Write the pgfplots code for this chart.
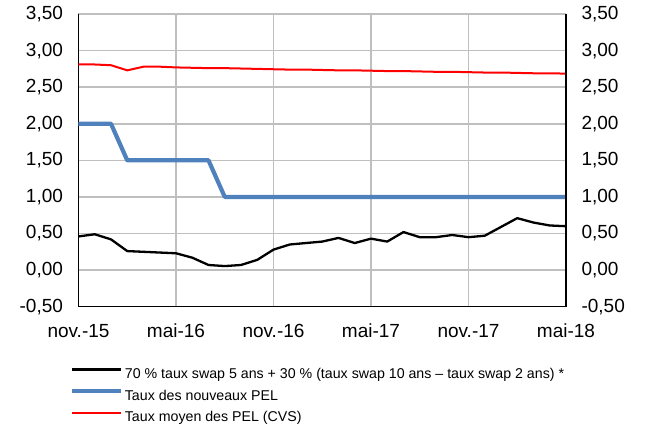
\documentclass[border=0pt]{standalone}
\usepackage{pgfplots}
\pgfplotsset{compat=1.18}
\usepackage{fontspec}
\setmainfont{Liberation Sans}
\definecolor{pelblue}{RGB}{79,129,189}
\definecolor{gridgray}{RGB}{191,191,191}
\begin{document}
\begin{tikzpicture}
\useasboundingbox (-78.5pt,-123.3pt) rectangle (566.5pt,306.7pt);
\pgfplotsset{
  common/.style={
    scale only axis, width=487.5pt, height=292.7pt,
    at={(0pt,0pt)}, anchor=south west,
    xmin=0, xmax=30, ymin=-0.5, ymax=3.5,
    ytick={-0.5,0,...,3.5},
    major tick length=0pt,
    tick label style={font=\fontsize{19}{22}\selectfont},
    /pgf/number format/.cd, assume math mode=true, fixed, fixed zerofill, precision=2, use comma,
  }
}
\begin{axis}[common,
  axis x line*=bottom, axis y line*=left,
  axis line style={-, black, line width=1.5pt},
  xtick={0,6,...,30},
  xticklabels={nov.-15,mai-16,nov.-16,mai-17,nov.-17,mai-18},
  xticklabel style={yshift=-14pt},
  yticklabel style={xshift=-12pt},
  grid=major,
  major grid style={gridgray, line width=1.5pt},
  legend cell align=left,
  legend image code/.code={\draw[#1] (0pt,4.5pt) -- (49pt,4.5pt);},
  legend style={draw=none, fill=none, inner sep=0pt,
    at={(axis description cs:-0.0175,-0.204)}, anchor=north west,
    font=\fontsize{14.2}{17}\selectfont,
    row sep=7pt,
    nodes={inner sep=1.5pt}},
]
\addplot[black, line width=2.3pt, line join=round] coordinates {
(0,0.46)(1,0.49)(2,0.42)(3,0.26)(4,0.25)(5,0.24)(6,0.23)(7,0.17)(8,0.07)(9,0.055)
(10,0.07)(11,0.14)(12,0.28)(13,0.35)(14,0.37)(15,0.39)(16,0.44)(17,0.37)(18,0.43)(19,0.39)
(20,0.52)(21,0.45)(22,0.45)(23,0.48)(24,0.45)(25,0.47)(26,0.59)(27,0.71)(28,0.65)(29,0.61)(30,0.60)};
\addlegendentry{70 \% taux swap 5 ans + 30 \% (taux swap 10 ans – taux swap 2 ans) *}
\addplot[pelblue, line width=4.2pt, line join=round] coordinates {
(0,2)(2,2)(3,1.5)(8,1.5)(9,1)(30,1)};
\addlegendentry{Taux des nouveaux PEL}
\addplot[red, line width=2pt, line join=round] coordinates {
(0,2.81)(1,2.81)(2,2.80)(3,2.73)(4,2.78)(5,2.78)(6,2.77)(7,2.765)(8,2.76)(9,2.76)
(10,2.755)(11,2.75)(12,2.745)(13,2.74)(14,2.74)(15,2.735)(16,2.73)(17,2.73)(18,2.725)(19,2.72)
(20,2.72)(21,2.715)(22,2.71)(23,2.71)(24,2.705)(25,2.70)(26,2.70)(27,2.695)(28,2.69)(29,2.69)(30,2.685)};
\addlegendentry{Taux moyen des PEL (CVS)}
\end{axis}
\begin{axis}[common,
  axis x line=none, axis y line*=right,
  axis line style={-, black, line width=1.5pt},
  yticklabel style={xshift=12pt},
]
\end{axis}
\end{tikzpicture}
\end{document}
